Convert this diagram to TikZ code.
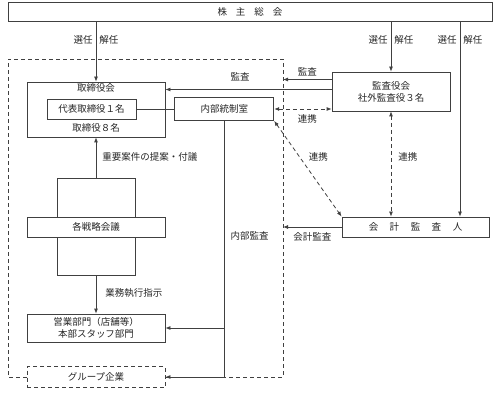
\documentclass[tikz,border=0pt]{standalone}
\usepackage{fontspec}
\setmainfont{Noto Sans CJK JP}
\usetikzlibrary{arrows.meta, positioning, calc}

\begin{document}
\begin{tikzpicture}[x=1pt, y=-1pt, font=\fontsize{9.5}{12}\selectfont, text=black!85]
    % Define styles
    \tikzstyle{block} = [rectangle, draw=black!75, fill=white, line width=0.8pt,
                         inner sep=0pt, align=center]
    \tikzstyle{arrow} = [draw=black!75, line width=0.8pt, -{Latex[length=5pt,width=4pt]}]
    \tikzstyle{dasharrow} = [arrow, {Latex[length=5pt,width=4pt]}-{Latex[length=5pt,width=4pt]},
                             dash pattern=on 4pt off 3pt]
    \tikzstyle{dashline} = [draw=black!75, line width=0.8pt, dash pattern=on 4pt off 3pt]
    \tikzstyle{lbl} = [inner sep=3pt]

    \useasboundingbox (0,0) rectangle (496,401);

    % Create blocks
    \node[block, minimum width=484pt, minimum height=19pt] (kabunushi) at (250,11.5)
        {株\hspace{9pt}主\hspace{9pt}総\hspace{9pt}会};
    \node[block, minimum width=138pt, minimum height=55pt] (torishimari) at (96,109.5) {};
    \node (torishimari-t) at ([yshift=-6.3pt]torishimari.north) {取締役会};
    \node (torishimari-b) at ([yshift=10pt]torishimari.south) {取締役８名};
    \node[block, minimum width=89pt, minimum height=20pt] (daihyo) at (91.5,109) {代表取締役１名};
    \node[block, minimum width=99pt, minimum height=23pt, right=38pt of daihyo] (naibu) {内部統制室};
    \node[block, minimum width=118pt, minimum height=39pt] (kansayaku) at (391,91.5)
        {監査役会\\社外監査役３名};
    \node[block, minimum width=147pt, minimum height=20pt] (kaikei) at (415.5,227)
        {会\hspace{11.5pt}計\hspace{11.5pt}監\hspace{11.5pt}査\hspace{11.5pt}人};
    \node[block, minimum width=78pt, minimum height=97pt] (senryaku-bg) at (96,226.5) {};
    \node[block, minimum width=138pt, minimum height=20pt] (senryaku) at (96,227) {各戦略会議};
    \node[block, minimum width=138pt, minimum height=28pt, font=\fontsize{9.5}{11.5}\selectfont]
        (eigyo) at (96,328) {営業部門（店舗等）\\本部スタッフ部門};
    \node[block, dashline, minimum width=138pt, minimum height=21pt] (group) at (96,377) {グループ企業};

    % Group region
    \coordinate (regNW) at (8,59);
    \coordinate (regSE) at (283,377);
    \draw[dashline] (group.west) -- (regNW |- group.west) -- (regNW) -- (regNW -| regSE)
        -- (regSE) -- (group.east);

    % Draw arrows
    \coordinate (k3) at ([xshift=44.5pt]kaikei.north);
    \draw[arrow] (torishimari.north |- kabunushi.south) -- node[lbl, pos=0.31, left] {選任}
        node[lbl, pos=0.31, right] {解任} (torishimari.north);
    \draw[arrow] (kansayaku.north |- kabunushi.south) -- node[lbl, pos=0.37, left] {選任}
        node[lbl, pos=0.37, right] {解任} (kansayaku.north);
    \draw[arrow] (k3 |- kabunushi.south) -- node[lbl, pos=0.097, left] {選任}
        node[lbl, pos=0.097, right] {解任} (k3);

    \draw[arrow] ([yshift=12pt]kansayaku.west) coordinate (k1) -- node[lbl, above] {監査} (k1 -| regSE);
    \draw[arrow] ([yshift=2pt]kansayaku.west) coordinate (k2) -- node[lbl, above=5pt, pos=0.55] {監査}
        (k2 -| torishimari.east);
    \draw[draw=black!75, line width=0.8pt] (daihyo) -- (naibu);
    \draw[dasharrow] (naibu.east) -- node[lbl, below=2pt, pos=0.58] {連携} (naibu.east -| kansayaku.west);
    \draw[dasharrow] (naibu.south east) -- node[lbl, right=6pt, pos=0.375] {連携} (kaikei.north west);
    \draw[dasharrow] (kansayaku.south) -- node[lbl, right=4pt, pos=0.43] {連携}
        (kansayaku.south |- kaikei.north);
    \draw[arrow] (kaikei.west) -- node[lbl, below=2pt] {会計監査} (kaikei.west -| regSE);

    \draw[arrow] (naibu.south) -- node[lbl, right=3pt, pos=0.45] {内部監査} (naibu.south |- group.east)
        -- (group.east);
    \draw[arrow] (eigyo.east -| naibu.south) -- (eigyo.east);

    \draw[arrow] (senryaku-bg.north) -- node[lbl, right=3pt, pos=0.51] {重要案件の提案・付議} (torishimari.south);
    \draw[arrow] (senryaku-bg.south) -- node[lbl, right=6pt, pos=0.46] {業務執行指示} (eigyo.north);
\end{tikzpicture}
\end{document}
